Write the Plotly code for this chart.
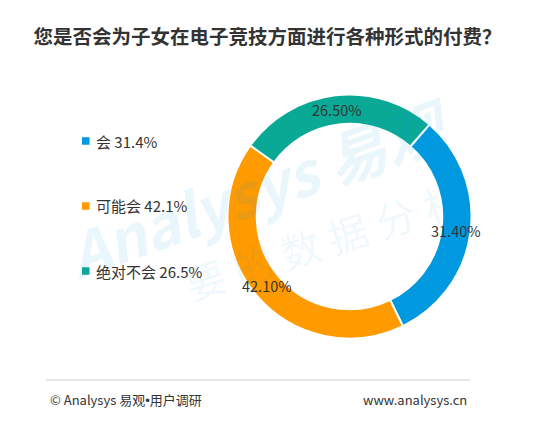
import math
import plotly.graph_objects as go

title = "您是否会为子女在电子竞技方面进行各种形式的付费？"
categories = ["会", "可能会", "绝对不会"]
values = [31.4, 42.1, 26.5]
colors = ["#0099e0", "#ff9a00", "#0aa996"]
footer_left = "© Analysys 易观<span style='font-family:Liberation Sans'>•</span>用户调研"
footer_right = "www.analysys.cn"

W, H = 533, 430
FONT = "Noto Sans CJK SC"
TXT = "#333333"

# donut geometry (pixels in figure coordinates)
cx, cy, R = 341.5, 208.5, 122
HOLE = 0.76
START = 41  # degrees clockwise from 12 o'clock

fig = go.Figure()
fig.add_trace(go.Pie(
    labels=categories,
    values=values,
    marker=dict(colors=colors, line=dict(color="white", width=2)),
    hole=HOLE,
    sort=False,
    direction="clockwise",
    rotation=START,
    textinfo="none",
    domain=dict(x=[(cx - R) / W, (cx + R) / W], y=[(H - cy - R) / H, (H - cy + R) / H]),
    showlegend=False,
    hoverinfo="label+percent",
))

annotations = []
shapes = []

# watermark
annotations.append(dict(text="<i><b>Analysys 易观</b></i>", x=250 / W, y=(H - 178) / H, xref="paper", yref="paper",
                        showarrow=False, textangle=-20,
                        font=dict(family=FONT, size=60, color="rgba(0,153,224,0.085)")))
sp = "\u2005"
annotations.append(dict(text="<span style='color:rgba(255,154,0,0.16)'>你</span>" + sp + sp.join("要的数据分析"),
                        x=292 / W, y=(H - 240) / H, xref="paper", yref="paper",
                        showarrow=False, textangle=-18,
                        font=dict(family=FONT, size=40, color="rgba(0,153,224,0.07)")))

# slice value labels, placed at the middle of each ring segment
total = sum(values)
r_mid = R * (1 + HOLE) / 2
acc = 0.0
for v in values:
    mid = START + 360 * (acc + v / 2) / total
    acc += v
    th = math.radians(mid)
    px = cx + r_mid * math.sin(th)
    py = cy - r_mid * math.cos(th)
    annotations.append(dict(text=f"{v:.2f}%", x=px / W, y=(H - py) / H, xref="paper", yref="paper",
                            xanchor="center", yanchor="middle", showarrow=False,
                            font=dict(family=FONT, size=14.5, color=TXT)))

# legend
leg_y = [133, 198, 263]
for cat, v, c, yy in zip(categories, values, colors, leg_y):
    shapes.append(dict(type="rect", xref="paper", yref="paper",
                       x0=74 / W, x1=81.5 / W, y0=(H - yy - 3.75) / H, y1=(H - yy + 3.75) / H,
                       fillcolor=c, line=dict(width=0)))
    annotations.append(dict(text=f"{cat} {v}%", x=85.5 / W, y=(H - yy) / H, xref="paper", yref="paper",
                            xanchor="left", yanchor="middle", showarrow=False,
                            font=dict(family=FONT, size=15, color=TXT)))

# footer
shapes.append(dict(type="line", xref="paper", yref="paper", x0=38 / W, x1=462 / W,
                   y0=(H - 372) / H, y1=(H - 372) / H, line=dict(color="#cccccc", width=1)))
annotations.append(dict(text=footer_left, x=40 / W, y=(H - 391) / H, xref="paper", yref="paper",
                        xanchor="left", yanchor="middle", showarrow=False,
                        font=dict(family=FONT, size=13, color=TXT)))
annotations.append(dict(text=footer_right, x=461 / W, y=(H - 391) / H, xref="paper", yref="paper",
                        xanchor="right", yanchor="middle", showarrow=False,
                        font=dict(family=FONT, size=13, color=TXT)))

fig.update_layout(
    width=W, height=H,
    margin=dict(l=0, r=0, t=0, b=0),
    paper_bgcolor="white", plot_bgcolor="white",
    title=dict(text=f"<b>{title}</b>", x=259.5 / W, xanchor="center", y=1 - 29.5 / H, yanchor="middle",
               font=dict(family=FONT, size=19.5, color=TXT)),
    annotations=annotations, shapes=shapes,
)

fig.write_html("out.html")
